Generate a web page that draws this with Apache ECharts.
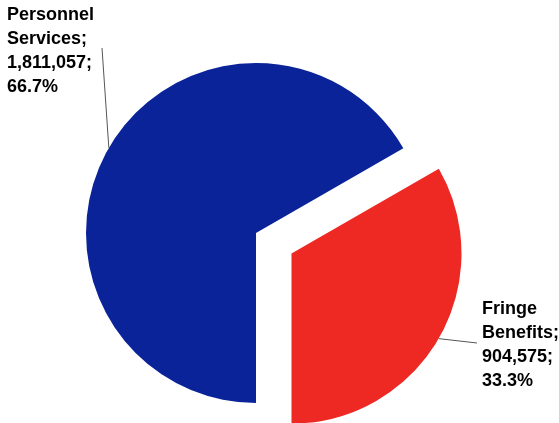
<!DOCTYPE html>
<html>
<head>
<meta charset="utf-8">
<style>
  html, body { margin: 0; padding: 0; background: #fff; }
  #chart { width: 559px; height: 423px; }
</style>
<script src="https://cdn.jsdelivr.net/npm/echarts@6/dist/echarts.min.js"></script>
</head>
<body>
<div id="chart"></div>
<script>
// Budget split
const categories = ['Personnel Services', 'Fringe Benefits'];
const values = [1811057, 904575];
const colors = ['#0a2399', '#ee2924'];
const explodedIndex = 1;

const CENTER = [256, 233];
const RADIUS = 170;
const OFFSET = 41;
const START_DEG = 270; // begin at 6 o'clock, running clockwise

const total = values.reduce((a, b) => a + b, 0);

// Clockwise-from-12-o'clock angle (radians) at the middle of slice i
function midAngle(i) {
  let before = 0;
  for (let k = 0; k < i; k++) before += values[k];
  return (180 + (before + values[i] / 2) / total * 360) * Math.PI / 180;
}

// Centre of slice i, pushed outwards along its middle when exploded
function sliceCenter(i) {
  if (i !== explodedIndex) return CENTER.slice();
  const a = midAngle(i);
  return [CENTER[0] + OFFSET * Math.sin(a), CENTER[1] - OFFSET * Math.cos(a)];
}

function rimPoint(i) {
  const c = sliceCenter(i), a = midAngle(i);
  return [c[0] + RADIUS * Math.sin(a), c[1] - RADIUS * Math.cos(a)];
}

const labelSpots = [
  { x: 7, y: 3, end: [102, 48] },
  { x: 482, y: 297.5, end: [477, 343] }
];

const labelStyle = {
  show: true,
  position: 'outside',
  color: '#000',
  fontFamily: 'Liberation Sans, Arial, sans-serif',
  fontWeight: 'bold',
  fontSize: 18,
  lineHeight: 24,
  align: 'left',
  overflow: 'none',
  formatter: p => p.name.replace(' ', '\n') + ';\n' +
    p.value.toLocaleString('en-US') + ';\n' + p.percent.toFixed(1) + '%'
};

// One pie per slice, all sharing the same angles; only the slice it owns is painted
const series = categories.map((_, owner) => ({
  type: 'pie',
  center: sliceCenter(owner),
  radius: RADIUS,
  startAngle: START_DEG,
  clockwise: true,
  silent: true,
  emphasis: { disabled: true },
  data: categories.map((name, i) => ({
    name,
    value: values[i],
    itemStyle: { color: i === owner ? colors[i] : 'rgba(0,0,0,0)' },
    label: { show: i === owner },
    labelLine: { show: i === owner }
  })),
  label: labelStyle,
  labelLine: { show: true, lineStyle: { color: '#555', width: 1 } },
  labelLayout: p => {
    const s = labelSpots[p.dataIndex];
    return {
      x: s.x, y: s.y, align: 'left', verticalAlign: 'top',
      labelLinePoints: [rimPoint(p.dataIndex), s.end, s.end]
    };
  }
}));

const chart = echarts.init(document.getElementById('chart'), null, { renderer: 'canvas' });
chart.setOption({ animation: false, series });
</script>
</body>
</html>
